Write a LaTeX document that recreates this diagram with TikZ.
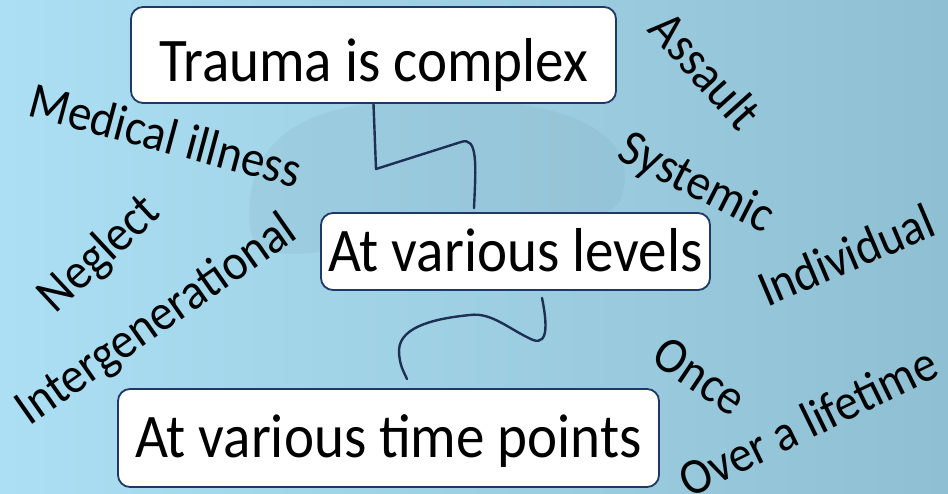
\documentclass[tikz,border=0pt]{standalone}
\usepackage{fontspec}
\setmainfont{Carlito}
\newfontfamily\tallfont[FakeStretch=0.92]{Carlito}
\usetikzlibrary{shadings}
\definecolor{bgL}{HTML}{ACDFF3}
\definecolor{bgR}{HTML}{8FBFD3}
\definecolor{blob}{HTML}{86AFC0}
\definecolor{navy}{HTML}{1F3864}
\definecolor{wire}{HTML}{1E2F55}
\tikzset{
  mainbox/.style={draw=navy, line width=1.8pt, fill=white, rounded corners=12pt,
    inner sep=0pt, text depth=0pt, font=\tallfont\fontsize{62}{66}\selectfont, text=black},
  tag/.style={font=\tallfont\fontsize{51}{55}\selectfont, text=black, inner sep=0pt},
  wirestyle/.style={draw=wire, line width=2.4pt, line cap=round, line join=round}
}
\begin{document}
\begin{tikzpicture}[x=1pt,y=-1pt]
\useasboundingbox (0,0) rectangle (948,494);
% background
\shade[left color=bgL, right color=bgR] (0,0) rectangle (948,494);
\fill[blob, opacity=0.22] (250,230) .. controls (240,120) and (330,95) .. (470,100)
  .. controls (600,105) and (640,150) .. (620,200) .. controls (600,240) and (420,230) .. (330,250)
  .. controls (290,258) and (255,255) .. (250,230) -- cycle;

% main boxes
\node[mainbox, text height=54pt, minimum width=485pt, minimum height=96pt] (b1) at (373.5,55) {Trauma is complex};
\node[mainbox, text height=41pt, minimum width=389pt, minimum height=77pt] (b2) at (515.5,251.5) {At various levels};
\node[mainbox, text height=38pt, minimum width=541pt, minimum height=98pt] (b3) at (388.5,438) {At various time points};

% connectors
\coordinate (k1) at (376,169);
\coordinate (k2) at (461,142);
\draw[wirestyle] (b1.south) -- (k1) -- (k2)
  .. controls (478,136) and (476,165) .. ([xshift=-41.5pt,yshift=4pt]b2.north);

\coordinate (m1) at (533,340);
\coordinate (m2) at (470,315);
\coordinate (m3) at (399,350);
\draw[wirestyle] ([xshift=26.5pt,yshift=-7pt]b2.south)
  .. controls (546,318) and (550,346) .. (m1)
  .. controls (510,330) and (492,312) .. (m2)
  .. controls (440,318) and (400,325) .. (m3)
  .. controls (399,365) and (404,372) .. ([xshift=18.5pt,yshift=9pt]b3.north);

% labels
\node[tag, rotate=-48] (assault) at (706,70) {Assault};
\node[tag, rotate=-15] (medical) at (166,135) {Medical illness};
\node[tag, rotate=-27] (systemic) at (696,184) {Systemic};
\node[tag, rotate=23] (individual) at (846,255) {Individual};
\node[tag, rotate=43] (neglect) at (100,255) {Neglect};
\node[tag, rotate=35] (intergen) at (157,321) {Intergenerational};
\node[tag, rotate=-34] (once) at (700,376) {Once};
\node[tag, rotate=26] (lifetime) at (808,421) {Over a lifetime};
\end{tikzpicture}
\end{document}
